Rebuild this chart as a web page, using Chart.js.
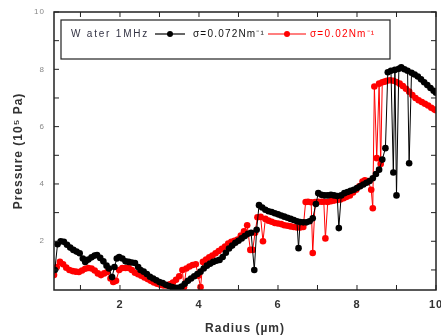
<!DOCTYPE html>
<html>
<head>
<meta charset="utf-8">
<script src="https://cdn.jsdelivr.net/npm/chart.js@4.4.0/dist/chart.umd.min.js"></script>
<style>
  html, body { margin: 0; padding: 0; background: #fff; }
  #wrap { width: 441px; height: 336px; }
</style>
</head>
<body>
<div id="wrap"><canvas id="pressureChart" width="441" height="336"></canvas></div>
<script>
// --- Data ---
// sigma = 0.072 N/m (black)
const blackRadius = [0.35, 0.42, 0.5, 0.58, 0.66, 0.74, 0.82, 0.9, 0.98, 1.06, 1.12, 1.2, 1.28, 1.36, 1.42, 1.5, 1.58, 1.66, 1.72, 1.8, 1.86, 1.92, 1.98, 2.06, 2.14, 2.22, 2.3, 2.38, 2.46, 2.52, 2.6, 2.68, 2.76, 2.84, 2.92, 3.0, 3.08, 3.16, 3.24, 3.32, 3.4, 3.48, 3.56, 3.64, 3.72, 3.8, 3.88, 3.96, 4.04, 4.12, 4.2, 4.28, 4.36, 4.44, 4.52, 4.6, 4.68, 4.76, 4.84, 4.92, 5.0, 5.08, 5.16, 5.24, 5.32, 5.4, 5.46, 5.52, 5.6, 5.68, 5.76, 5.84, 5.92, 6.0, 6.08, 6.16, 6.24, 6.32, 6.4, 6.48, 6.52, 6.56, 6.64, 6.72, 6.8, 6.88, 6.96, 7.02, 7.1, 7.18, 7.26, 7.34, 7.42, 7.5, 7.54, 7.6, 7.68, 7.76, 7.84, 7.92, 8.0, 8.08, 8.16, 8.24, 8.32, 8.4, 8.48, 8.56, 8.64, 8.72, 8.78, 8.86, 8.92, 8.96, 9.0, 9.06, 9.12, 9.2, 9.28, 9.32, 9.38, 9.46, 9.54, 9.62, 9.7, 9.78, 9.86, 9.94, 10.0];
const blackPressure = [1.0, 1.9, 2.0, 1.98, 1.88, 1.78, 1.7, 1.64, 1.58, 1.4, 1.28, 1.36, 1.44, 1.5, 1.52, 1.42, 1.3, 1.15, 1.05, 0.75, 1.1, 1.4, 1.45, 1.4, 1.3, 1.28, 1.26, 1.24, 1.1, 1.0, 0.94, 0.86, 0.76, 0.7, 0.64, 0.58, 0.54, 0.48, 0.44, 0.4, 0.38, 0.38, 0.42, 0.52, 0.62, 0.7, 0.78, 0.86, 0.94, 1.05, 1.15, 1.22, 1.28, 1.32, 1.35, 1.45, 1.6, 1.75, 1.85, 1.95, 2.02, 2.1, 2.18, 2.26, 2.3, 1.0, 2.4, 3.26, 3.18, 3.1, 3.05, 3.02, 2.98, 2.94, 2.9, 2.86, 2.82, 2.78, 2.74, 2.7, 1.76, 2.67, 2.66, 2.66, 2.7, 2.8, 3.3, 3.68, 3.62, 3.6, 3.6, 3.62, 3.6, 3.58, 2.46, 3.6, 3.68, 3.72, 3.76, 3.8, 3.86, 3.92, 3.98, 4.04, 4.1, 4.2, 4.35, 4.5, 4.85, 5.25, 7.9, 7.95, 4.4, 7.98, 3.6, 8.02, 8.07, 8.0, 7.95, 4.72, 7.88, 7.82, 7.75, 7.65, 7.55, 7.45, 7.35, 7.25, 7.18];

// sigma = 0.02 N/m (red)
const redRadius = [0.33, 0.4, 0.48, 0.56, 0.64, 0.72, 0.8, 0.88, 0.96, 1.04, 1.12, 1.2, 1.28, 1.36, 1.44, 1.52, 1.6, 1.68, 1.76, 1.83, 1.9, 1.98, 2.06, 2.14, 2.22, 2.3, 2.38, 2.46, 2.54, 2.62, 2.7, 2.78, 2.86, 2.94, 3.02, 3.1, 3.18, 3.26, 3.34, 3.42, 3.5, 3.58, 3.62, 3.68, 3.76, 3.84, 3.92, 3.98, 4.04, 4.1, 4.18, 4.26, 4.34, 4.42, 4.5, 4.58, 4.66, 4.74, 4.82, 4.9, 4.98, 5.06, 5.14, 5.22, 5.3, 5.36, 5.42, 5.48, 5.56, 5.62, 5.68, 5.76, 5.84, 5.92, 6.0, 6.08, 6.16, 6.24, 6.32, 6.4, 6.48, 6.56, 6.64, 6.7, 6.76, 6.84, 6.88, 6.94, 7.02, 7.1, 7.16, 7.2, 7.26, 7.34, 7.42, 7.5, 7.58, 7.66, 7.74, 7.82, 7.9, 7.98, 8.06, 8.14, 8.2, 8.28, 8.36, 8.4, 8.44, 8.5, 8.56, 8.6, 8.64, 8.7, 8.76, 8.84, 8.92, 9.0, 9.08, 9.16, 9.24, 9.32, 9.4, 9.48, 9.56, 9.64, 9.72, 9.8, 9.88, 9.96, 10.0];
const redPressure = [0.82, 1.1, 1.28, 1.2, 1.08, 1.0, 0.96, 0.94, 0.93, 0.98, 1.04, 1.07, 1.05, 0.98, 0.88, 0.82, 0.88, 0.93, 0.7, 0.58, 0.62, 1.0, 1.07, 1.07, 1.07, 1.0, 0.9, 0.85, 0.8, 0.74, 0.68, 0.62, 0.56, 0.52, 0.48, 0.46, 0.46, 0.5, 0.56, 0.66, 0.78, 1.0, 0.4, 1.05, 1.12, 1.17, 1.2, 0.8, 0.4, 1.28, 1.36, 1.44, 1.5, 1.58, 1.66, 1.74, 1.82, 1.92, 1.98, 2.02, 2.06, 2.2, 2.35, 2.56, 1.7, 1.7, 2.3, 2.84, 2.85, 2.0, 2.78, 2.72, 2.68, 2.64, 2.62, 2.6, 2.56, 2.54, 2.52, 2.5, 2.48, 2.48, 2.5, 3.37, 3.38, 3.36, 1.59, 3.37, 3.38, 3.38, 3.38, 2.1, 3.37, 3.4, 3.42, 3.44, 3.46, 3.5, 3.55, 3.6, 3.7, 3.8, 3.92, 4.08, 4.13, 4.1, 3.8, 3.15, 7.4, 4.9, 7.5, 4.7, 7.55, 7.57, 7.6, 7.62, 7.6, 7.56, 7.5, 7.42, 7.32, 7.22, 7.1, 7.0, 6.92, 6.86, 6.8, 6.74, 6.66, 6.6, 6.57];

const xRange = [0.33, 10];
const yRange = [0.3, 10];

const toPoints = (xs, ys) => xs.map((x, i) => ({ x: x, y: ys[i] }));
const FONT = '"Liberation Sans", Arial, sans-serif';

// wide letter spacing like the original export
const spacingPlugin = {
    id: 'spacing',
    beforeDraw(chart) { chart.ctx.letterSpacing = '1px'; }
};

// --- Frame, inward ticks and legend box drawn on top ---
const framePlugin = {
    id: 'frame',
    afterDraw(chart) {
        const ctx = chart.ctx;
        const a = chart.chartArea;
        const xs = chart.scales.x, ys = chart.scales.y;
        ctx.save();
        ctx.strokeStyle = '#222';
        ctx.lineWidth = 1.5;
        ctx.strokeRect(a.left, a.top, a.right - a.left, a.bottom - a.top);

        ctx.lineWidth = 1;
        ctx.beginPath();
        for (let v = 1; v <= 10; v++) {
            const px = xs.getPixelForValue(v);
            ctx.moveTo(px, a.bottom); ctx.lineTo(px, a.bottom - 5);
            ctx.moveTo(px, a.top); ctx.lineTo(px, a.top + 5);
            const py = ys.getPixelForValue(v);
            ctx.moveTo(a.left, py); ctx.lineTo(a.left + 5, py);
            ctx.moveTo(a.right, py); ctx.lineTo(a.right - 5, py);
        }
        ctx.stroke();

        // legend
        ctx.lineWidth = 1.2;
        ctx.strokeStyle = '#222';
        ctx.fillStyle = '#fff';
        ctx.fillRect(61, 20, 329, 39);
        ctx.strokeRect(61, 20, 329, 39);
        ctx.textBaseline = 'middle';
        ctx.font = '10px ' + FONT;
        ctx.letterSpacing = '1.8px';
        ctx.fillStyle = '#334';
        ctx.fillText('W ater 1MHz', 71, 34);

        const sample = (x0, x1, color) => {
            ctx.strokeStyle = color; ctx.fillStyle = color;
            ctx.beginPath(); ctx.moveTo(x0, 34); ctx.lineTo(x1, 34); ctx.stroke();
            ctx.beginPath(); ctx.arc((x0 + x1) / 2, 34, 3, 0, Math.PI * 2); ctx.fill();
        };
        sample(155, 185, '#000');
        ctx.letterSpacing = '1.2px';
        ctx.fillStyle = '#111';
        ctx.fillText('σ=0.072Nm⁻¹', 193, 34);
        sample(268, 306, '#ff0000');
        ctx.fillStyle = '#ff0000';
        ctx.fillText('σ=0.02Nm⁻¹', 310, 34);
        ctx.restore();
    }
};

const ctx = document.getElementById('pressureChart').getContext('2d');
const pressureChart = new Chart(ctx, {
    type: 'line',
    data: {
        datasets: [{
            label: 'σ=0.072Nm⁻¹',
            data: toPoints(blackRadius, blackPressure),
            borderColor: '#000',
            backgroundColor: '#000',
            borderWidth: 1,
            pointRadius: 3.3,
            pointBorderWidth: 0,
            tension: 0
        }, {
            label: 'σ=0.02Nm⁻¹',
            data: toPoints(redRadius, redPressure),
            borderColor: '#ff0000',
            backgroundColor: '#ff0000',
            borderWidth: 1,
            pointRadius: 3.3,
            pointBorderWidth: 0,
            tension: 0
        }]
    },
    options: {
        responsive: false,
        animation: false,
        layout: { padding: { top: 12, right: 5, left: 0, bottom: 0 } },
        plugins: { legend: { display: false }, tooltip: { enabled: false } },
        scales: {
            x: {
                type: 'linear',
                min: xRange[0],
                max: xRange[1],
                afterFit: s => { s.height = 46; s.paddingRight = 0; s.paddingLeft = 0; },
                afterBuildTicks: s => { s.ticks = [2, 4, 6, 8, 10].map(v => ({ value: v })); },
                grid: { display: false, drawTicks: false },
                border: { display: false },
                ticks: {
                    padding: 8,
                    color: '#333',
                    maxRotation: 0,
                    font: { family: FONT, size: 11, weight: 'bold' }
                },
                title: {
                    display: true,
                    text: 'Radius (µm)',
                    color: '#333',
                    padding: { top: 10, bottom: 0 },
                    font: { family: FONT, size: 12, weight: 'bold' }
                }
            },
            y: {
                type: 'linear',
                min: yRange[0],
                max: yRange[1],
                afterFit: s => { s.width = 54; s.paddingTop = 0; s.paddingBottom = 0; },
                afterBuildTicks: s => { s.ticks = [2, 4, 6, 8, 10].map(v => ({ value: v })); },
                grid: { display: false, drawTicks: false },
                border: { display: false },
                ticks: {
                    padding: 9,
                    color: '#888',
                    font: { family: FONT, size: 8 }
                },
                title: {
                    display: true,
                    text: 'Pressure (10⁵ Pa)',
                    color: '#333',
                    padding: { top: 11, bottom: 0 },
                    font: { family: FONT, size: 12, weight: 'bold' }
                }
            }
        }
    },
    plugins: [spacingPlugin, framePlugin]
});
</script>
</body>
</html>
